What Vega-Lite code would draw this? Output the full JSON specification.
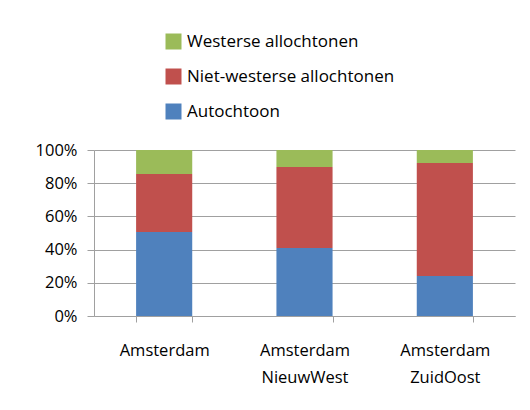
{
  "$schema": "https://vega.github.io/schema/vega-lite/v6.json",
  "autosize": {"type": "none"},
  "padding": {"left": 94, "top": 150, "right": 15, "bottom": 94},
  "width": 421,
  "height": 166,
  "background": "white",
  "data": {
    "values": [
      {"gebied": "Amsterdam", "groep": "Autochtoon", "aandeel": 50.6},
      {"gebied": "Amsterdam", "groep": "Niet-westerse allochtonen", "aandeel": 34.9},
      {"gebied": "Amsterdam", "groep": "Westerse allochtonen", "aandeel": 14.5},
      {"gebied": "Amsterdam NieuwWest", "groep": "Autochtoon", "aandeel": 41.0},
      {"gebied": "Amsterdam NieuwWest", "groep": "Niet-westerse allochtonen", "aandeel": 48.8},
      {"gebied": "Amsterdam NieuwWest", "groep": "Westerse allochtonen", "aandeel": 10.2},
      {"gebied": "Amsterdam ZuidOost", "groep": "Autochtoon", "aandeel": 24.1},
      {"gebied": "Amsterdam ZuidOost", "groep": "Niet-westerse allochtonen", "aandeel": 68.1},
      {"gebied": "Amsterdam ZuidOost", "groep": "Westerse allochtonen", "aandeel": 7.8}
    ]
  },
  "mark": {"type": "bar"},
  "encoding": {
    "x": {
      "field": "gebied",
      "type": "nominal",
      "sort": null,
      "scale": {"paddingInner": 0.6, "paddingOuter": 0.3},
      "axis": {
        "title": null,
        "labelAngle": 0,
        "labelExpr": "split(datum.label, ' ')",
        "labelFont": "Open Sans",
        "labelFontSize": 16.5,
        "labelColor": "#000000",
        "labelBaseline": "top",
        "labelPadding": 20,
        "labelLineHeight": 27.5,
        "tickBand": "extent",
        "tickSize": 6,
        "tickColor": "#a0a0a0",
        "domainColor": "#a0a0a0",
        "grid": false
      }
    },
    "y": {
      "field": "aandeel",
      "type": "quantitative",
      "stack": "normalize",
      "scale": {"domain": [0, 1]},
      "axis": {
        "title": null,
        "values": [0, 0.2, 0.4, 0.6, 0.8, 1],
        "format": ".0%",
        "labelFont": "Open Sans",
        "labelFontSize": 16.5,
        "labelColor": "#000000",
        "labelPadding": 10,
        "tickSize": 7,
        "tickColor": "#a0a0a0",
        "domainColor": "#a0a0a0",
        "gridColor": "#a0a0a0",
        "grid": true
      }
    },
    "color": {
      "field": "groep",
      "type": "nominal",
      "scale": {
        "domain": ["Westerse allochtonen", "Niet-westerse allochtonen", "Autochtoon"],
        "range": ["#9BBB59", "#C0504D", "#4F81BD"]
      },
      "legend": {
        "title": null,
        "orient": "none",
        "legendX": 71,
        "legendY": -117,
        "padding": 0,
        "symbolType": "square",
        "symbolSize": 256,
        "symbolStrokeWidth": 0,
        "symbolOpacity": 1,
        "labelFont": "Open Sans",
        "labelFontSize": 17,
        "labelColor": "#000000",
        "labelOffset": 5,
        "rowPadding": 17,
        "labelLimit": 400
      }
    },
    "order": {"field": "groep", "sort": "ascending"}
  },
  "config": {
    "view": {"stroke": null}
  }
}
